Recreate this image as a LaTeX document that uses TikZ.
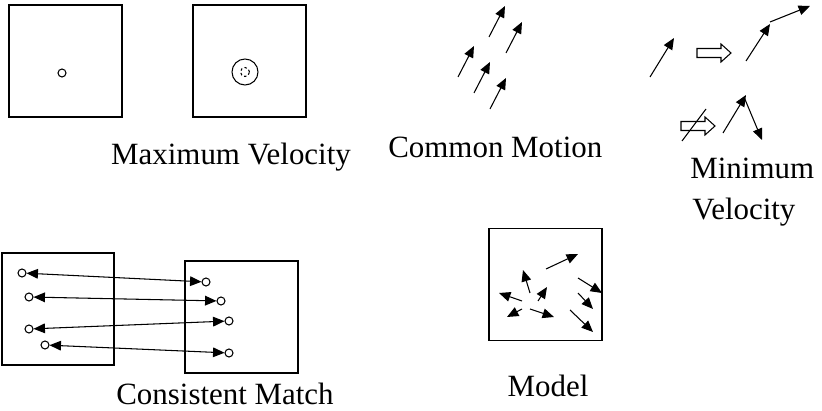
\documentclass[tikz,border=0pt]{standalone}
\usepackage{fontspec}
\setmainfont{Liberation Serif}
\usetikzlibrary{arrows.meta}

\begin{document}
\begin{tikzpicture}[
    x=0.02cm,y=-0.02cm,
    >={Triangle[length=6.5pt,width=5.5pt]},
    font=\fontsize{17.6pt}{21pt}\selectfont,
    square/.style={
        draw,
        line width=0.75pt,
        minimum width=2.26cm,
        minimum height=2.24cm,
        inner sep=0pt
    },
    dot/.style={circle, draw, line width=0.6pt, inner sep=0pt, minimum size=0.16cm},
    vec/.style={->, line width=0.6pt},
    lbl/.style={anchor=base, inner sep=0pt},
    hollow/.pic={
        \draw[line width=0.6pt] (0,-4.5) -- (24,-4.5) -- (24,-9) -- (34,0)
            -- (24,9) -- (24,4.5) -- (0,4.5) -- cycle;
    }
]
\useasboundingbox (0,0) rectangle (822,411);

\node[square] (maxa) at (65.5,61) {};
\node[square] (maxb) at (249.5,61) {};
\node[dot] (pa) at (62,73) {};
\node[dot, minimum size=0.52cm] (ring) at (245,72) {};
\node[dot, dash pattern=on 1.4pt off 1.4pt, minimum size=0.18cm] (pb) at (245,72) {};
\node[lbl] (maxlbl) at (231,165) {Maximum Velocity};

\foreach \sx/\sy in {489/37, 506/53, 458/77, 474/93, 490/109}
    \draw[vec] (\sx,\sy) -- ++(16,-31);
\node[lbl, anchor=base west] (comlbl) at (388,158) {Common Motion};

\draw[vec] (650,77) -- (674,38);
\pic at (697,53) {hollow};
\draw[vec] (746,61) -- (770,24);
\draw[vec] (770,22) -- (810,6);
\pic at (681,126) {hollow};
\draw[line width=0.6pt] (682,141) -- (706,109);
\draw[vec] (723,133) -- (746,95);
\draw[vec] (744,97) -- (762,140);
\node[lbl, anchor=base west] (minlbl) at (690,179) {Minimum};
\node[lbl, anchor=base west] (vellbl) at (692,220) {Velocity};

\node[square, minimum width=2.24cm] (frama) at (58,309) {};
\node[square] (framb) at (241.5,317) {};
\node[dot] (c1) at (22,273) {};
\node[dot] (c2) at (29,297) {};
\node[dot] (c3) at (29,329) {};
\node[dot] (c4) at (45,345) {};
\node[dot] (d1) at (206,282) {};
\node[dot] (d2) at (221,301) {};
\node[dot] (d3) at (229,321) {};
\node[dot] (d4) at (229,353) {};
\foreach \i in {1,...,4}
    \draw[<->, line width=0.6pt] (c\i) -- (d\i);
\node[lbl] (matlbl) at (225,405) {Consistent Match};

\node[square] (model) at (545.5,284.5) {};
\foreach \ax/\ay/\bx/\by in {546/269/578/254, 578/278/602/293, 578/293/593/309,
    570/310/593/332, 530/293/523/270, 538/301/547/287, 522/301/499/293,
    522/309/507/317, 530/309/554/317}
    \draw[vec] (\ax,\ay) -- (\bx,\by);
\node[lbl] (modlbl) at (548,397) {Model};

\end{tikzpicture}
\end{document}
